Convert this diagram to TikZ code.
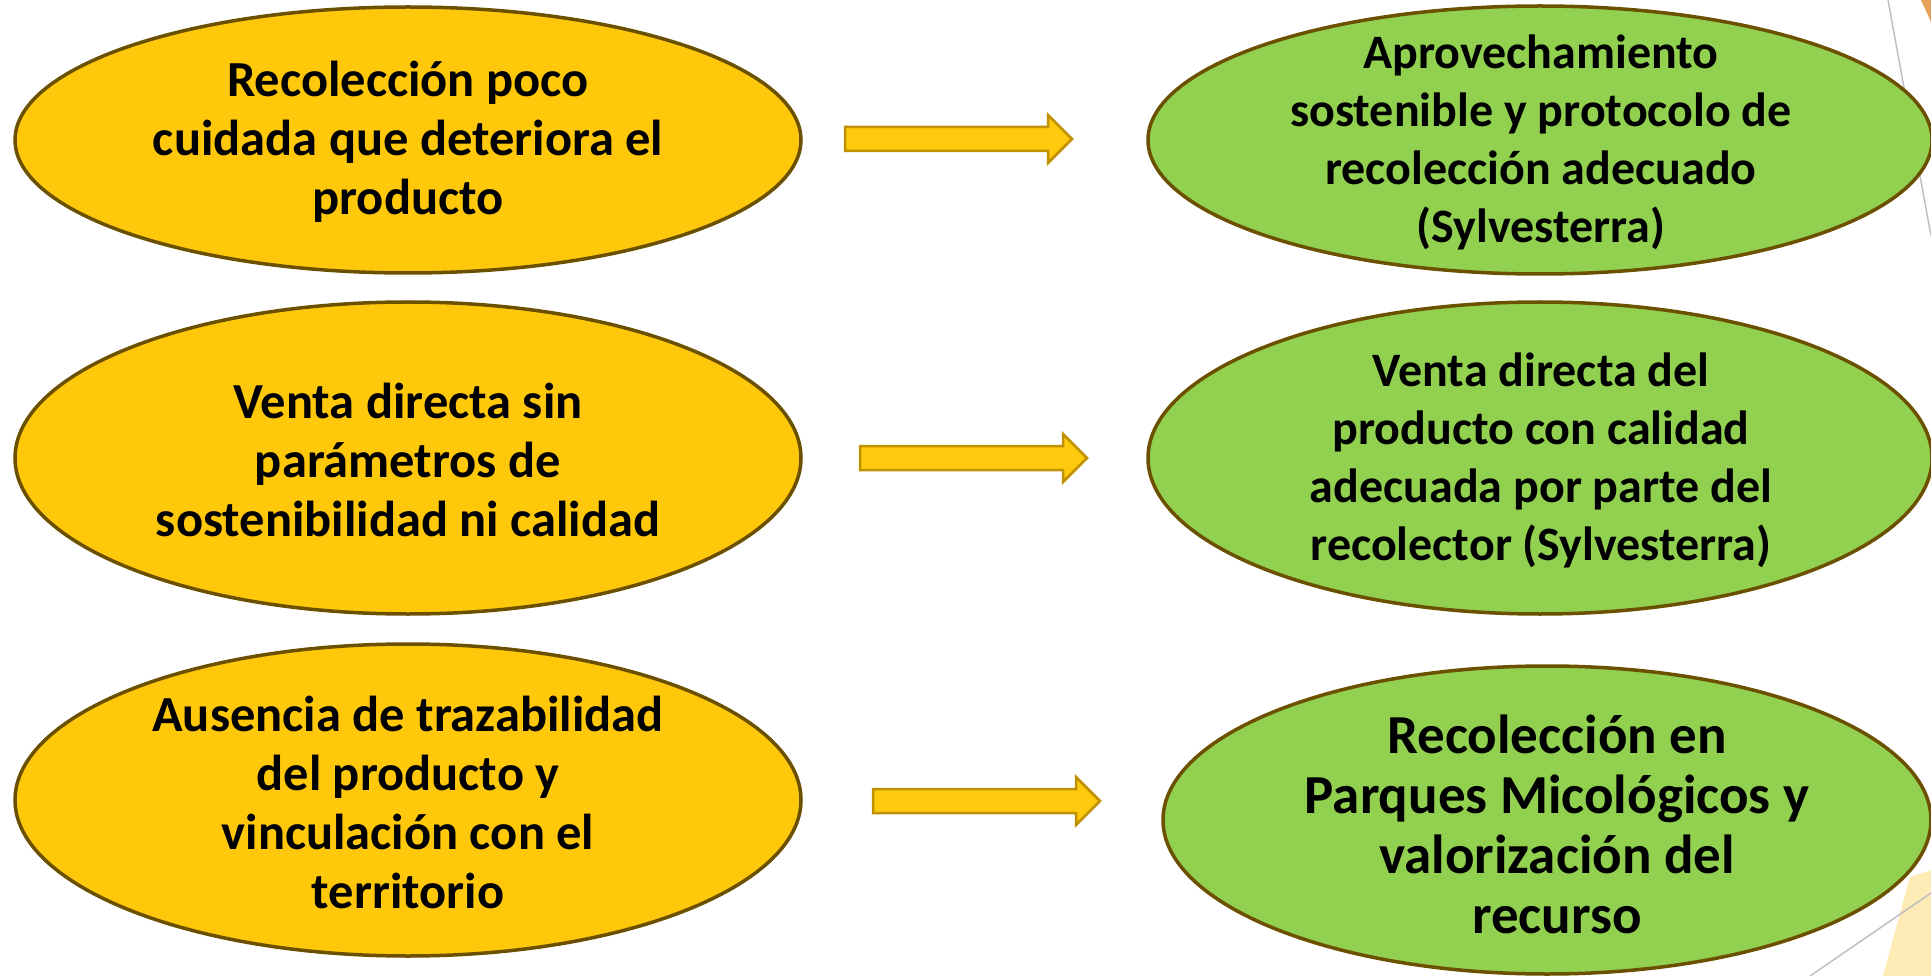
\documentclass[tikz,border=0pt]{standalone}
\usepackage{fontspec}
\setmainfont{Carlito}
\usetikzlibrary{shapes.geometric}
\definecolor{ylw}{HTML}{FFC80A}
\definecolor{grn}{HTML}{92D050}
\definecolor{edge}{HTML}{6B5000}
\definecolor{arrfill}{HTML}{FFC90E}
\definecolor{arredge}{HTML}{BF9000}
\definecolor{deco}{HTML}{BFBFBF}
\definecolor{lightylw}{HTML}{FFEBB5}
\definecolor{orng}{HTML}{E3A15A}
\tikzset{
  oval/.style={ellipse, draw=edge, line width=3.5pt, inner sep=0pt},
  yoval/.style={oval, fill=ylw},
  goval/.style={oval, fill=grn},
  txt/.style={align=center, font=\fontsize{50.5}{59}\selectfont\bfseries, inner sep=0pt},
  rtxt/.style={txt, font=\fontsize{48}{58}\selectfont\bfseries},
  blockarrow/.style={fill=arrfill, draw=arredge, line width=2.5pt, line join=miter},
  decoline/.style={draw=deco, line width=1.5pt}
}
\begin{document}
\begin{tikzpicture}[x=1pt,y=-1pt]
\useasboundingbox (0,0) rectangle (1931,976);
\clip (0,0) rectangle (1931,976);
% decorations
\fill[orng] (1921,0) -- (1931,0) -- (1931,22) -- cycle;
\draw[decoline] (1888,0) -- (1931,236);
\fill[lightylw] (1910,877) -- (1931,870) -- (1931,976) -- (1883,976) -- cycle;
\draw[decoline] (1810,976) -- (1931,893);
% left ovals
\node[yoval, minimum width=786pt, minimum height=266pt] (l1) at (408,140) {};
\node[yoval, minimum width=786pt, minimum height=312pt] (l2) at (408,458) {};
\node[yoval, minimum width=786pt, minimum height=312pt] (l3) at (408,800) {};
% right ovals
\node[goval, minimum width=784pt, minimum height=268pt] (r1) at (1540,140) {};
\node[goval, minimum width=784pt, minimum height=312pt] (r2) at (1540,458) {};
\node[goval, minimum width=768pt, minimum height=308pt] (r3) at (1547,820) {};
% texts
\node[txt] (t1) at (408,142) {Recolección poco\\cuidada que deteriora el\\producto};
\node[txt] (t2) at (408,460) {Venta directa sin\\parámetros de\\sostenibilidad ni calidad};
\node[txt] (t3) at (408,802) {Ausencia de trazabilidad\\del producto y\\vinculación con el\\territorio};
\node[rtxt] (t4) at (1541,142) {Aprovechamiento\\sostenible y protocolo de\\recolección adecuado\\(Sylvesterra)};
\node[rtxt] (t5) at (1541,460) {Venta directa del\\producto con calidad\\adecuada por parte del\\recolector (Sylvesterra)};
\node[txt, font=\fontsize{55}{60}\selectfont\bfseries] (t6) at (1557,824) {Recolección en\\Parques Micológicos y\\valorización del\\recurso};
% block arrows
\draw[blockarrow] (845,127) -- (1048,127) -- (1048,115) -- (1072,139) -- (1048,163) -- (1048,151) -- (845,151) -- cycle;
\draw[blockarrow] (860,446) -- (1063,446) -- (1063,434) -- (1087,458) -- (1063,482) -- (1063,470) -- (860,470) -- cycle;
\draw[blockarrow] (873,789) -- (1076,789) -- (1076,777) -- (1100,801) -- (1076,825) -- (1076,813) -- (873,813) -- cycle;
\end{tikzpicture}
\end{document}
